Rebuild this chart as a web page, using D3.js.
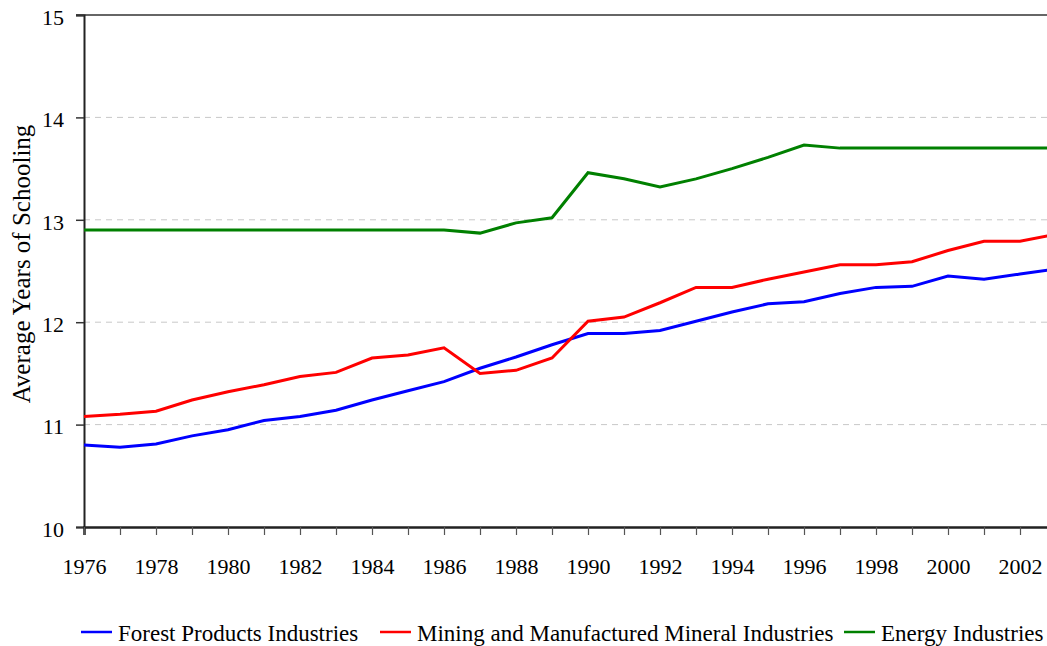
<!DOCTYPE html>
<html>
<head>
<meta charset="utf-8">
<script src="https://cdn.jsdelivr.net/npm/d3@7"></script>
<style>
  body { margin: 0; background: #fff; }
  svg { display: block; }
  svg text { font-family: "Liberation Serif", serif; }
</style>
</head>
<body>
<svg width="1047" height="646"></svg>
<script>
// years on the x axis (chart is cut off just before 2003)
const years = d3.range(1976, 2004);
const yTicks = [10, 11, 12, 13, 14, 15];
const seriesNames = ["Forest Products Industries", "Mining and Manufactured Mineral Industries", "Energy Industries"];
const seriesColors = ["#0000ff", "#ff0000", "#008000"];

const forest = [10.80, 10.78, 10.81, 10.89, 10.95, 11.04, 11.08, 11.14, 11.24, 11.33,
  11.42, 11.55, 11.66, 11.78, 11.89, 11.89, 11.92, 12.01, 12.10, 12.18,
  12.20, 12.28, 12.34, 12.35, 12.45, 12.42, 12.47, 12.52];
const mining = [11.08, 11.10, 11.13, 11.24, 11.32, 11.39, 11.47, 11.51, 11.65, 11.68,
  11.75, 11.50, 11.53, 11.65, 12.01, 12.05, 12.19, 12.34, 12.34, 12.42,
  12.49, 12.56, 12.56, 12.59, 12.70, 12.79, 12.79, 12.86];
const energy = [12.90, 12.90, 12.90, 12.90, 12.90, 12.90, 12.90, 12.90, 12.90, 12.90,
  12.90, 12.87, 12.97, 13.02, 13.46, 13.40, 13.32, 13.40, 13.50, 13.61,
  13.73, 13.70, 13.70, 13.70, 13.70, 13.70, 13.70, 13.70];

const allSeries = [forest, mining, energy];

const svg = d3.select("svg");
const plotLeft = 84, plotTop = 15, plotBottom = 527;
const font = "'Liberation Serif', serif";

const x = d3.scaleLinear().domain([1976, 2003]).range([plotLeft, plotLeft + 27 * 36]);
const y = d3.scaleLinear().domain([10, 15]).range([plotBottom, plotTop]);

// dashed gridlines
svg.append("g").selectAll("line")
  .data(yTicks.filter(d => d > 10 && d < 15))
  .enter().append("line")
  .attr("x1", plotLeft).attr("x2", 1047)
  .attr("y1", d => y(d)).attr("y2", d => y(d))
  .attr("stroke", "#c8c8c8").attr("stroke-width", 1)
  .attr("stroke-dasharray", "6,5");

// top border
svg.append("line")
  .attr("x1", plotLeft - 8).attr("x2", 1047)
  .attr("y1", y(15)).attr("y2", y(15))
  .attr("stroke", "#333").attr("stroke-width", 1.5);

// y axis
const yAxis = d3.axisLeft(y).tickValues(yTicks).tickSize(8).tickPadding(12).tickFormat(d3.format("d"));
const gy = svg.append("g").attr("transform", `translate(${plotLeft},0)`).call(yAxis)
  .attr("font-family", null).attr("font-size", null);
gy.select(".domain").attr("stroke", "#222").attr("stroke-width", 2);
gy.selectAll(".tick line").attr("stroke", "#333").attr("stroke-width", 1.5);
gy.selectAll("text").style("font-family", font).style("font-size", "22px")
  .attr("dy", "0.42em").attr("fill", "#000");

// x axis
const xAxis = d3.axisBottom(x).tickValues(years).tickSize(8).tickPadding(23)
  .tickFormat(d => (d % 2 === 0 && d < 2003) ? d : "");
const gx = svg.append("g").attr("transform", `translate(0,${plotBottom})`).call(xAxis)
  .attr("font-family", null).attr("font-size", null);
gx.select(".domain").attr("stroke", "#222").attr("stroke-width", 2.5);
gx.selectAll(".tick line").attr("stroke", "#555").attr("stroke-width", 1.2);
gx.selectAll("text").style("font-family", font).style("font-size", "22px").attr("fill", "#000");

// y title
svg.append("text")
  .attr("transform", "rotate(-90)")
  .attr("x", -264).attr("y", 30)
  .attr("text-anchor", "middle")
  .style("font-family", font).style("font-size", "25px")
  .text("Average Years of Schooling");

// lines
const line = d3.line().x((d, i) => x(years[i])).y(d => y(d));
svg.append("g").selectAll("path")
  .data(allSeries)
  .enter().append("path")
  .attr("d", d => line(d))
  .attr("fill", "none")
  .attr("stroke", (d, i) => seriesColors[i])
  .attr("stroke-width", 3)
  .attr("stroke-linejoin", "miter");

// legend
const legendX = [81, 380, 844];
const lg = svg.append("g").selectAll("g")
  .data(seriesNames)
  .enter().append("g")
  .attr("transform", (d, i) => `translate(${legendX[i]},632)`);
lg.append("line")
  .attr("x1", 0).attr("x2", 31)
  .attr("stroke", (d, i) => seriesColors[i]).attr("stroke-width", 2.5);
lg.append("text")
  .attr("x", 37).attr("y", 8.5)
  .style("font-family", font).style("font-size", "23px")
  .text(d => d);
</script>
</body>
</html>
